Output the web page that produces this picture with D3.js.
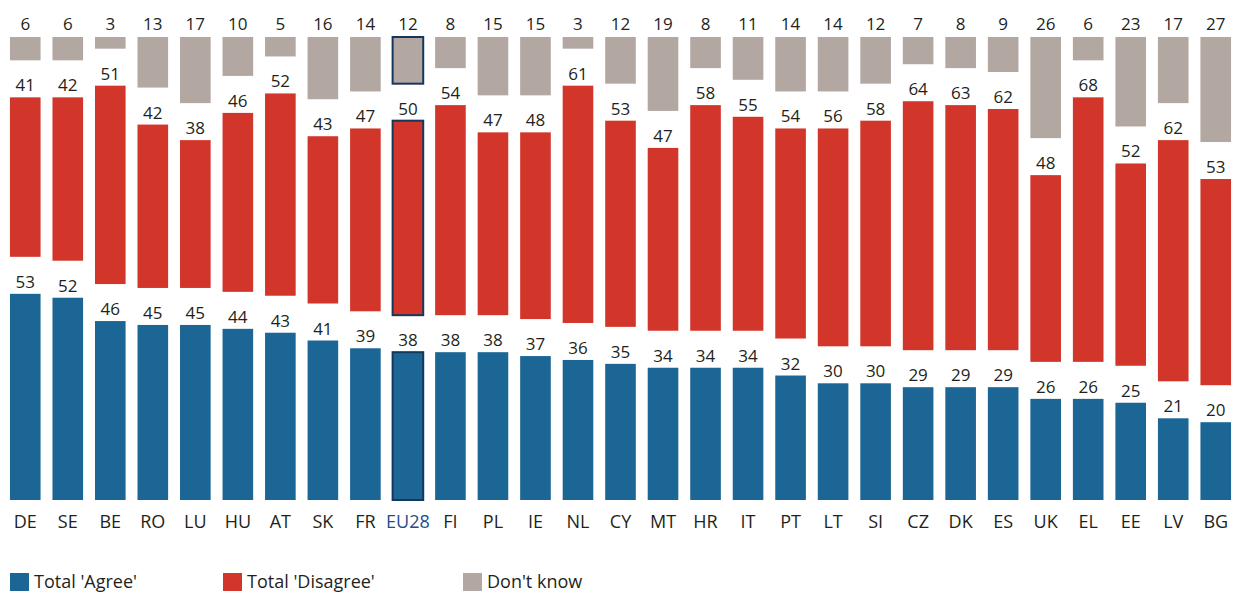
<!DOCTYPE html>
<html>
<head>
<meta charset="utf-8">
<script src="https://cdn.jsdelivr.net/npm/d3@7"></script>
<style>
  body { margin: 0; background: #fff; }
  svg text { font-family: "Open Sans", sans-serif; fill: #231f20; }
</style>
</head>
<body>
<svg width="1235" height="595"></svg>
<script>
var countries = ["DE","SE","BE","RO","LU","HU","AT","SK","FR","EU28","FI","PL","IE","NL","CY","MT","HR","IT","PT","LT","SI","CZ","DK","ES","UK","EL","EE","LV","BG"];
var agree    = [53,52,46,45,45,44,43,41,39,38,38,38,37,36,35,34,34,34,32,30,30,29,29,29,26,26,25,21,20];
var disagree = [41,42,51,42,38,46,52,43,47,50,54,47,48,61,53,47,58,55,54,56,58,64,63,62,48,68,52,62,53];
var dontKnow = [6,6,3,13,17,10,5,16,14,12,8,15,15,3,12,19,8,11,14,14,12,7,8,9,26,6,23,17,27];
var legendLabels = ["Total 'Agree'", "Total 'Disagree'", "Don't know"];

var colors = { agree: "#1b6695", disagree: "#d2352a", dk: "#b2a7a1" };
var highlight = "EU28";

var svg = d3.select("svg");
var top0 = 37, base = 500, gap = 37;

var x = d3.scaleBand().domain(countries).range([4, 1237])
    .paddingInner(0.28).paddingOuter(0.14);
// height of one percentage point
var h = d3.scaleLinear().domain([0, 100]).range([0, base - top0 - 2 * gap]);

var rows = countries.map(function (c, i) {
  return { c: c, a: agree[i], d: disagree[i], k: dontKnow[i] };
});

var segs = [];
rows.forEach(function (r) {
  var aTop = base - h(r.a);
  var dBot = aTop - gap;
  segs.push({ c: r.c, v: r.a, y0: aTop, y1: base, fill: colors.agree });
  segs.push({ c: r.c, v: r.d, y0: dBot - h(r.d), y1: dBot, fill: colors.disagree });
  segs.push({ c: r.c, v: r.k, y0: top0, y1: top0 + h(r.k), fill: colors.dk });
});

var g = svg.append("g");
g.selectAll("rect.bar")
  .data(segs)
  .enter().append("rect")
  .attr("class", "bar")
  .attr("x", function (d) { return x(d.c); })
  .attr("y", function (d) { return d.y0; })
  .attr("width", x.bandwidth())
  .attr("height", function (d) { return d.y1 - d.y0; })
  .attr("fill", function (d) { return d.fill; })
  .attr("stroke", function (d) { return d.c === highlight ? "#16365c" : "none"; })
  .attr("stroke-width", 2);

g.selectAll("text.val")
  .data(segs)
  .enter().append("text")
  .attr("class", "val")
  .attr("x", function (d) { return x(d.c) + x.bandwidth() / 2; })
  .attr("y", function (d) { return d.fill === colors.dk ? top0 - 7 : d.y0 - 6; })
  .attr("text-anchor", "middle")
  .style("font-size", "17px")
  .text(function (d) { return d.v; });

svg.append("g").selectAll("text")
  .data(countries)
  .enter().append("text")
  .attr("x", function (d) { return x(d) + x.bandwidth() / 2; })
  .attr("y", 528)
  .attr("text-anchor", "middle")
  .style("font-size", "18px")
  .style("fill", function (d) { return d === highlight ? "#1f4e8c" : "#231f20"; })
  .text(function (d) { return d; });

// legend
var legX = [10, 223, 463];
var legCol = [colors.agree, colors.disagree, colors.dk];
var leg = svg.append("g").selectAll("g")
  .data(legendLabels)
  .enter().append("g")
  .attr("transform", function (d, i) { return "translate(" + legX[i] + ",573)"; });
leg.append("rect")
  .attr("width", 19).attr("height", 18)
  .attr("fill", function (d, i) { return legCol[i]; });
leg.append("text")
  .attr("x", 24).attr("y", 15)
  .style("font-size", "18px")
  .text(function (d) { return d; });
</script>
</body>
</html>
